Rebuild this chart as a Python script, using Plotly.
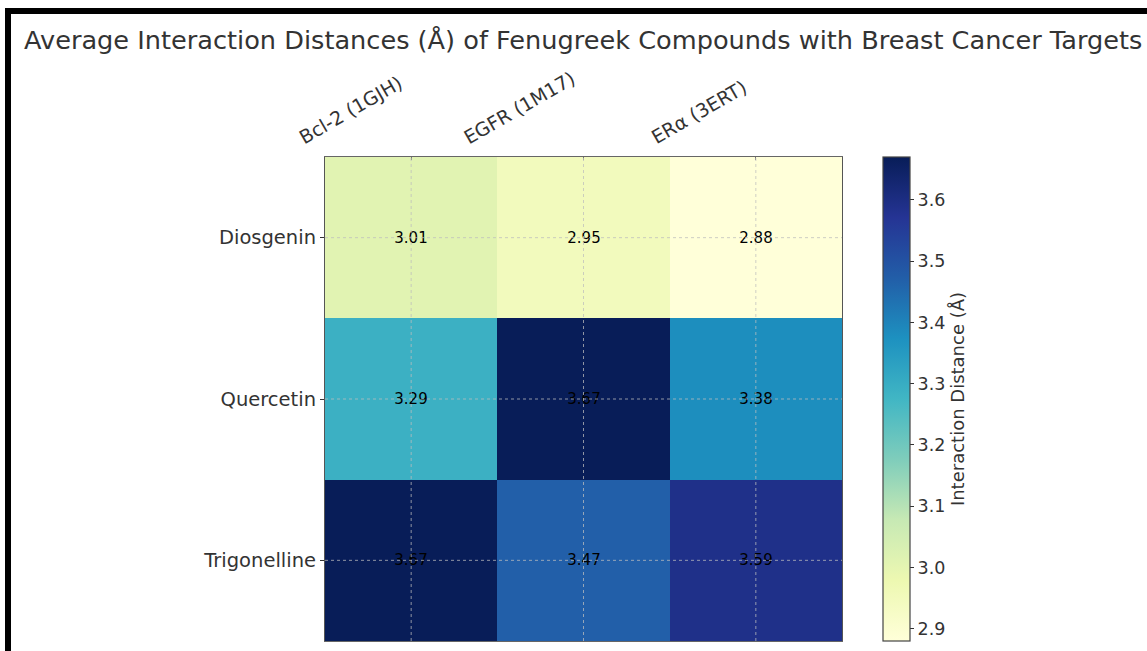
import plotly.graph_objects as go

# Docking results: mean interaction distance (Å) per compound / target
compounds = ["Diosgenin", "Quercetin", "Trigonelline"]
targets = ["Bcl-2 (1GJH)", "EGFR (1M17)", "ERα (3ERT)"]
diosgenin = [3.01, 2.95, 2.88]
quercetin = [3.29, 3.67, 3.38]
trigonelline = [3.67, 3.47, 3.59]
cbar_ticks = [2.9, 3.0, 3.1, 3.2, 3.3, 3.4, 3.5, 3.6]

z = [diosgenin, quercetin, trigonelline]
zmin = min(min(r) for r in z)
zmax = max(max(r) for r in z)

# ColorBrewer YlGnBu (9 classes)
ylgnbu = ["#ffffd9", "#edf8b1", "#c7e9b4", "#7fcdbb", "#41b6c4",
          "#1d91c0", "#225ea8", "#253494", "#081d58"]
colorscale = [[i / (len(ylgnbu) - 1), c] for i, c in enumerate(ylgnbu)]

FONT = "DejaVu Sans"
TXT = "#333"
W, H = 1147, 651
L, R, T, B = 325, 305, 157, 10
pw, ph = W - L - R, H - T - B


def px_x(px):
    return (px - L) / pw


def px_y(py):
    return (H - B - py) / ph


fig = go.Figure(go.Heatmap(
    z=z, x=targets, y=compounds,
    zmin=zmin, zmax=zmax,
    colorscale=colorscale,
    texttemplate="%{z:.2f}",
    textfont=dict(family=FONT, size=15, color="black"),
    colorbar=dict(
        x=px_x(883), xanchor="left", xref="paper", xpad=0,
        y=0, yanchor="bottom", len=1, lenmode="fraction", ypad=0,
        thickness=27,
        outlinecolor="#444", outlinewidth=1.2,
        tickvals=cbar_ticks, ticktext=[f"{t:.1f}" for t in cbar_ticks],
        ticks="outside", ticklen=4, tickcolor=TXT,
        tickfont=dict(family=FONT, size=17.5, color=TXT),
        title=dict(text="Interaction Distance (Å)", side="right",
                   font=dict(family=FONT, size=18, color=TXT)),
    ),
))

# dotted grid drawn over the cells, one line per category centre
grid = dict(color="rgba(190,190,190,0.75)", width=1, dash="dot")
for i in range(len(targets)):
    fig.add_shape(type="line", xref="x", yref="paper", x0=i, x1=i, y0=0, y1=1,
                  line=grid, layer="above")
for j in range(len(compounds)):
    fig.add_shape(type="line", xref="paper", yref="y", x0=0, x1=1, y0=j, y1=j,
                  line=grid, layer="above")

# rotated target labels above the columns, right edge aligned on each column
for i, name in enumerate(targets):
    fig.add_annotation(text=name, x=i, xref="x", y=1, yref="paper",
                       xanchor="right", yanchor="bottom", xshift=-3, yshift=6,
                       textangle=-30, showarrow=False,
                       font=dict(family=FONT, size=19, color=TXT))

# heavy outer frame
fig.add_shape(type="rect", xref="paper", yref="paper",
              x0=px_x(8), x1=px_x(1300), y0=px_y(800), y1=px_y(11),
              line=dict(color="black", width=6), fillcolor="rgba(0,0,0,0)",
              layer="above")

fig.update_layout(
    width=W, height=H,
    margin=dict(l=L, r=R, t=T, b=B),
    paper_bgcolor="white", plot_bgcolor="white",
    font=dict(family=FONT, color=TXT),
    title=dict(text="Average Interaction Distances (Å) of Fenugreek Compounds with Breast Cancer Targets",
               x=24 / W, xref="container", xanchor="left",
               y=(H - 40) / H, yref="container", yanchor="middle",
               font=dict(family=FONT, size=25.6, color=TXT)),
    xaxis=dict(side="top", showticklabels=False, showgrid=False, zeroline=False,
               range=[-0.5, len(targets) - 0.5], autorange=False,
               ticks="inside", ticklen=3, tickcolor="#777",
               showline=True, linecolor="#666", linewidth=1, mirror=True),
    yaxis=dict(range=[len(compounds) - 0.5, -0.5], autorange=False,
               showgrid=False, zeroline=False,
               ticks="outside", ticklen=4, tickcolor=TXT,
               tickfont=dict(family=FONT, size=19.5, color=TXT),
               showline=True, linecolor="#555", linewidth=1.2, mirror=True),
)

fig.write_html("out.html")
